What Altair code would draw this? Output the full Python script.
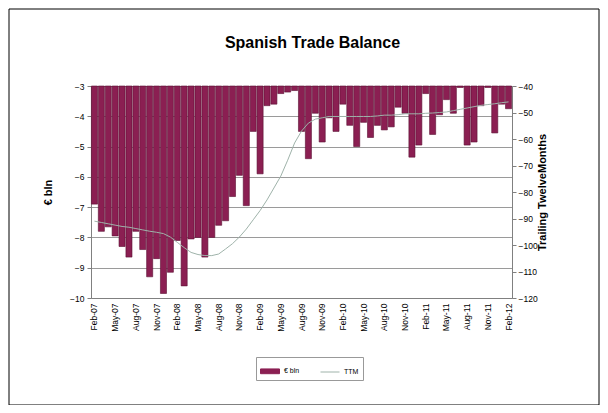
import altair as alt
import pandas as pd

months = [d.strftime("%b-%y") for d in pd.date_range("2007-02-01", "2012-02-01", freq="MS")]

balance = [-6.9, -7.8, -7.65, -7.95, -8.3, -8.65, -7.8, -8.4, -9.3, -8.7,
           -9.85, -9.15, -8.1, -9.6, -8.05, -8.0, -8.65, -8.0, -7.6, -7.45,
           -6.65, -5.95, -6.95, -4.5, -5.9, -3.65, -3.6, -3.25, -3.2, -3.15,
           -4.5, -5.4, -3.9, -4.85, -4.05, -4.5, -3.6, -4.3, -5.0, -4.2,
           -4.7, -4.3, -4.45, -4.35, -3.7, -3.9, -5.35, -4.95, -3.25, -4.6,
           -3.95, -3.45, -3.9, -3.05, -4.95, -4.85, -3.65, -3.05, -4.55, -3.6,
           -3.75]

ttm = [-91.0, -91.5, -92.0, -92.5, -93.0, -93.3, -93.8, -94.3, -94.8, -95.2,
       -95.7, -97.0, -99.0, -101.0, -102.8, -103.6, -104.0, -104.0, -103.4, -101.5,
       -99.5, -97.0, -94.0, -90.5, -87.0, -83.0, -78.5, -74.0, -68.0, -61.5,
       -57.0, -54.0, -52.5, -52.0, -51.5, -51.5, -51.5, -51.5, -51.5, -51.5,
       -51.5, -51.3, -51.0, -51.0, -50.8, -50.5, -50.5, -50.5, -50.3, -50.2,
       -50.0, -49.8, -49.3, -48.8, -48.3, -47.8, -47.3, -47.0, -46.7, -46.3,
       -46.0]

tick_labels = months[::3]
left_ticks = [-3, -4, -5, -6, -7, -8, -9, -10]
right_ticks = [-40, -50, -60, -70, -80, -90, -100, -110, -120]
series_names = ["€ bln", "TTM"]

BAR = "#8b1f52"
LINE = "#9fb3aa"
FONT = "Liberation Sans"

bars_df = pd.DataFrame({"month": months, "value": balance, "series": series_names[0]})
line_df = pd.DataFrame({"month": months, "ttm": ttm, "series": series_names[1]})

color = alt.Color(
    "series:N",
    scale=alt.Scale(domain=series_names, range=[BAR, LINE]),
    legend=alt.Legend(
        title=None, orient="none", direction="horizontal",
        legendX=165, legendY=271,
        strokeColor="#999999", padding=4,
        labelFontSize=7, labelFont=FONT, labelColor="#000000",
        symbolSize=361, symbolStrokeWidth=1,
        symbolType={"expr": "datum.label === 'TTM' ? 'stroke' : 'M-1,-0.25H1V0.25H-1Z'"},
        columnPadding=18,
    ),
)

x = alt.X("month:N", sort=months,
          scale=alt.Scale(paddingInner=0.12, paddingOuter=0.06),
          axis=alt.Axis(values=tick_labels, labelAngle=270, labelFontSize=8.5,
                        labelFont=FONT, ticks=False, labelPadding=5,
                        domainColor="#808080", title=None))

bars = alt.Chart(bars_df).mark_bar(stroke="#5a0f33", strokeWidth=0.6).encode(
    x=x,
    y=alt.Y("value:Q", scale=alt.Scale(domain=[-10, -3], nice=False, zero=False),
            axis=alt.Axis(values=left_ticks, format="d", title="€ bln",
                          grid=True, gridColor="#9a9a9a", tickSize=4, tickColor="#808080",
                          domainColor="#808080", labelFontSize=8.5, labelFont=FONT,
                          labelPadding=3, titleFont=FONT, titleFontSize=11,
                          titleFontWeight="bold", titleAngle=270, titleBaseline="middle",
                          titleX=-43, titleY=106)),
    y2=alt.datum(-3),
    color=color,
)

line = alt.Chart(line_df).mark_line(strokeWidth=1).encode(
    x=x,
    y=alt.Y("ttm:Q", scale=alt.Scale(domain=[-120, -40], nice=False, zero=False),
            axis=alt.Axis(orient="right", values=right_ticks, format="d",
                          title="Trailing TwelveMonths", grid=False, tickSize=4,
                          tickColor="#808080", domainColor="#808080",
                          labelFontSize=8.5, labelFont=FONT, labelPadding=2,
                          titleFont=FONT, titleFontSize=11, titleFontWeight="bold",
                          titleAngle=270, titleBaseline="middle",
                          titleX=30, titleY=106)),
    color=color,
)

frame = alt.Chart(pd.DataFrame({"a": [0]})).mark_rect(
    fill=None, stroke="#000000", strokeWidth=1
).encode(x=alt.value(-82), x2=alt.value(508), y=alt.value(-77), y2=alt.value(319))

chart = alt.layer(bars, line, frame).resolve_scale(y="independent").properties(
    width=421, height=212,
    title=alt.TitleParams("Spanish Trade Balance", font=FONT, fontSize=16,
                          fontWeight="bold", anchor="middle", dx=11, offset=-42),
    autosize=alt.AutoSizeParams(type="none"),
    padding={"left": 83, "top": 78, "right": 88, "bottom": 107},
).configure_view(stroke=None)

chart.save("out.html", embed_options={"renderer": "svg", "actions": False})
